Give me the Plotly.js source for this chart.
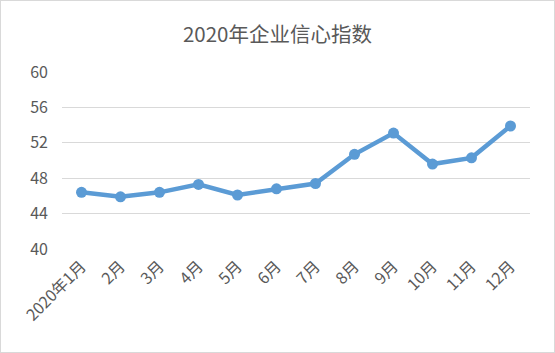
<!DOCTYPE html>
<html><head><meta charset="utf-8">
<script src="https://cdn.plot.ly/plotly-3.0.1.min.js"></script>
<style>
html,body{margin:0;padding:0;background:#fff;}
#wrap{width:555px;height:353px;box-sizing:border-box;border:1px solid #d9d9d9;}
#chart{width:553px;height:351px;}
</style></head>
<body><div id="wrap"><div id="chart"></div></div>
<script>
const months = ["2020年1月","2月","3月","4月","5月","6月","7月","8月","9月","10月","11月","12月"];
const values = [46.4, 45.9, 46.4, 47.3, 46.1, 46.8, 47.4, 50.7, 53.1, 49.6, 50.3, 53.9];
const yTicks = [40, 44, 48, 52, 56, 60];

const font = '"Noto Sans CJK SC", "Noto Sans", sans-serif';
Plotly.newPlot('chart', [{
  x: months, y: values, type: 'scatter', mode: 'lines+markers',
  line: {color: '#5b9bd5', width: 4.5},
  marker: {color: '#5b9bd5', size: 11},
  hoverinfo: 'skip'
}], {
  width: 553, height: 351,
  margin: {l: 61, r: 24, t: 71, b: 103},
  paper_bgcolor: '#ffffff', plot_bgcolor: '#ffffff',
  showlegend: false,
  title: {text: '2020年企业信心指数', x: 0.5, xanchor: 'center', y: 0.905, yanchor: 'middle',
          font: {family: font, size: 20.5, color: '#595959'}},
  xaxis: {type: 'category', range: [-0.5, 11.5], showgrid: false, zeroline: false,
          showline: false, ticks: '', tickangle: -45, ticklabelstandoff: 4,
          tickfont: {family: font, size: 16, color: '#595959'}},
  yaxis: {range: [40, 60], tickvals: yTicks, showgrid: true, gridcolor: '#d9d9d9', gridwidth: 1.3,
          zeroline: false, showline: false, ticks: '', ticklabelstandoff: 13,
          tickfont: {family: font, size: 16, color: '#595959'}}
}, {displayModeBar: false, staticPlot: true});
</script></body></html>
